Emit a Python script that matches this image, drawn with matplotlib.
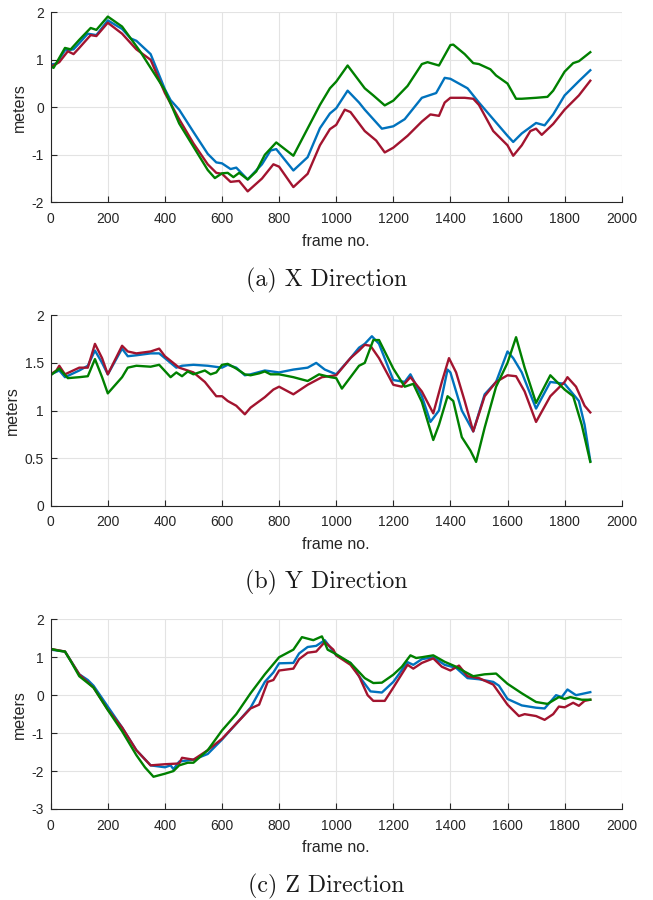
import matplotlib
matplotlib.use("Agg")
import matplotlib.pyplot as plt

plt.rcParams['font.family'] = ['Liberation Sans', 'DejaVu Sans']
plt.rcParams['axes.unicode_minus'] = False

# ---------------- X direction ----------------
x_blue_f = [0, 20, 50, 80, 100, 130, 160, 200, 250, 280, 300, 350, 400, 420, 450, 500, 550, 580, 600, 630, 650, 690, 740, 770, 790, 850, 900, 943, 978, 1000, 1040, 1080, 1100, 1160, 1200, 1240, 1280, 1300, 1350, 1380, 1400, 1460, 1500, 1550, 1600, 1620, 1650, 1700, 1730, 1760, 1800, 1850, 1890]
x_blue_v = [0.9, 0.92, 1.2, 1.22, 1.35, 1.55, 1.52, 1.83, 1.65, 1.45, 1.4, 1.12, 0.38, 0.15, -0.05, -0.52, -0.98, -1.16, -1.18, -1.3, -1.27, -1.52, -1.2, -0.91, -0.88, -1.33, -1.05, -0.44, -0.13, -0.02, 0.35, 0.1, -0.05, -0.45, -0.4, -0.25, 0.05, 0.2, 0.3, 0.62, 0.6, 0.4, 0.1, -0.25, -0.6, -0.73, -0.55, -0.33, -0.38, -0.15, 0.25, 0.55, 0.78]

x_red_f = [0, 30, 60, 80, 100, 140, 160, 200, 250, 300, 350, 400, 450, 500, 550, 580, 600, 630, 660, 690, 740, 780, 800, 850, 900, 943, 978, 1000, 1030, 1050, 1100, 1140, 1170, 1200, 1250, 1300, 1330, 1360, 1380, 1400, 1450, 1480, 1500, 1550, 1600, 1620, 1650, 1680, 1700, 1720, 1760, 1800, 1850, 1890]
x_red_v = [0.85, 0.95, 1.18, 1.12, 1.25, 1.52, 1.5, 1.78, 1.55, 1.22, 1.0, 0.3, -0.25, -0.76, -1.2, -1.38, -1.4, -1.57, -1.55, -1.77, -1.5, -1.2, -1.25, -1.68, -1.4, -0.8, -0.46, -0.37, -0.05, -0.1, -0.5, -0.7, -0.95, -0.85, -0.6, -0.3, -0.15, -0.18, 0.1, 0.2, 0.2, 0.18, 0.05, -0.5, -0.8, -1.02, -0.8, -0.5, -0.45, -0.58, -0.35, -0.05, 0.25, 0.56]

x_green_f = [0, 10, 50, 70, 100, 140, 160, 200, 250, 314, 400, 450, 500, 550, 575, 600, 620, 640, 660, 690, 720, 750, 790, 850, 943, 978, 1000, 1040, 1100, 1130, 1170, 1200, 1250, 1300, 1320, 1360, 1400, 1410, 1450, 1480, 1500, 1540, 1560, 1600, 1630, 1650, 1700, 1740, 1760, 1800, 1830, 1850, 1890]
x_green_v = [0.86, 0.83, 1.25, 1.22, 1.42, 1.67, 1.63, 1.91, 1.7, 1.17, 0.36, -0.34, -0.83, -1.32, -1.49, -1.39, -1.38, -1.47, -1.38, -1.52, -1.35, -1.0, -0.74, -1.02, 0.05, 0.4, 0.54, 0.88, 0.4, 0.25, 0.04, 0.14, 0.45, 0.91, 0.95, 0.88, 1.31, 1.32, 1.12, 0.93, 0.91, 0.8, 0.67, 0.5, 0.18, 0.18, 0.2, 0.22, 0.35, 0.75, 0.93, 0.97, 1.16]

# ---------------- Y direction ----------------
y_blue_f = [0, 30, 50, 100, 130, 155, 180, 200, 250, 270, 300, 350, 380, 400, 440, 460, 500, 550, 600, 620, 650, 680, 700, 750, 800, 850, 900, 930, 960, 1000, 1050, 1080, 1100, 1125, 1150, 1200, 1240, 1260, 1300, 1330, 1360, 1390, 1400, 1440, 1480, 1520, 1560, 1600, 1620, 1650, 1700, 1750, 1800, 1850, 1870, 1890]
y_blue_v = [1.38, 1.42, 1.35, 1.42, 1.47, 1.63, 1.5, 1.38, 1.65, 1.57, 1.58, 1.6, 1.6, 1.55, 1.45, 1.47, 1.48, 1.47, 1.45, 1.48, 1.45, 1.37, 1.38, 1.42, 1.4, 1.43, 1.45, 1.5, 1.43, 1.38, 1.55, 1.66, 1.7, 1.78, 1.7, 1.32, 1.3, 1.38, 1.15, 0.88, 1.0, 1.43, 1.4, 1.0, 0.78, 1.17, 1.3, 1.62, 1.55, 1.4, 1.02, 1.3, 1.28, 1.1, 0.85, 0.47]

y_red_f = [0, 20, 30, 50, 100, 130, 155, 180, 200, 250, 270, 300, 350, 380, 400, 450, 500, 540, 580, 600, 620, 650, 680, 700, 750, 780, 800, 850, 900, 950, 1000, 1050, 1080, 1100, 1120, 1150, 1200, 1230, 1260, 1300, 1340, 1370, 1395, 1420, 1450, 1480, 1520, 1560, 1600, 1630, 1660, 1700, 1750, 1800, 1810, 1840, 1870, 1890]
y_red_v = [1.38, 1.42, 1.47, 1.38, 1.45, 1.45, 1.7, 1.55, 1.38, 1.68, 1.62, 1.6, 1.62, 1.65, 1.57, 1.45, 1.4, 1.3, 1.15, 1.15, 1.1, 1.05, 0.96, 1.03, 1.14, 1.22, 1.25, 1.17, 1.27, 1.35, 1.37, 1.55, 1.63, 1.69, 1.68, 1.55, 1.27, 1.25, 1.35, 1.2, 0.97, 1.3, 1.55, 1.4, 1.1, 0.78, 1.15, 1.3, 1.37, 1.36, 1.2, 0.88, 1.15, 1.3, 1.35, 1.25, 1.05, 0.98]

y_green_f = [0, 30, 60, 100, 130, 155, 180, 200, 250, 270, 300, 350, 380, 420, 440, 460, 480, 500, 540, 560, 580, 600, 620, 650, 680, 700, 730, 750, 770, 800, 850, 900, 940, 980, 1000, 1020, 1050, 1080, 1100, 1130, 1150, 1200, 1240, 1270, 1300, 1340, 1360, 1390, 1410, 1440, 1470, 1490, 1520, 1560, 1600, 1630, 1660, 1700, 1750, 1800, 1830, 1860, 1890]
y_green_v = [1.37, 1.44, 1.34, 1.35, 1.36, 1.54, 1.35, 1.18, 1.35, 1.45, 1.47, 1.46, 1.48, 1.35, 1.4, 1.36, 1.41, 1.38, 1.42, 1.38, 1.4, 1.48, 1.49, 1.44, 1.38, 1.37, 1.39, 1.41, 1.38, 1.38, 1.35, 1.31, 1.38, 1.35, 1.34, 1.23, 1.35, 1.47, 1.5, 1.74, 1.74, 1.44, 1.25, 1.28, 1.09, 0.69, 0.85, 1.15, 1.1, 0.72, 0.58, 0.46, 0.82, 1.25, 1.5, 1.77, 1.45, 1.08, 1.37, 1.22, 1.15, 0.85, 0.46]

# ---------------- Z direction ----------------
z_blue_f = [0, 50, 100, 130, 150, 200, 250, 300, 350, 400, 420, 430, 450, 500, 550, 600, 650, 700, 750, 780, 800, 850, 870, 900, 930, 960, 980, 1000, 1050, 1080, 1120, 1160, 1200, 1250, 1270, 1300, 1340, 1380, 1420, 1460, 1500, 1550, 1570, 1600, 1650, 1700, 1730, 1770, 1790, 1810, 1840, 1890]
z_blue_v = [1.2, 1.15, 0.55, 0.4, 0.25, -0.3, -0.85, -1.45, -1.85, -1.9, -1.85, -1.95, -1.75, -1.7, -1.55, -1.17, -0.75, -0.33, 0.35, 0.6, 0.84, 0.85, 1.1, 1.27, 1.3, 1.45, 1.25, 1.05, 0.85, 0.5, 0.1, 0.07, 0.35, 0.87, 0.8, 0.95, 1.0, 0.8, 0.72, 0.45, 0.42, 0.35, 0.25, -0.1, -0.27, -0.33, -0.35, 0.0, -0.05, 0.15, 0.0, 0.08]

z_red_f = [0, 50, 100, 150, 200, 250, 300, 350, 400, 450, 460, 500, 550, 600, 650, 700, 730, 760, 780, 800, 850, 870, 900, 930, 960, 990, 1000, 1050, 1080, 1110, 1130, 1170, 1200, 1250, 1270, 1300, 1340, 1370, 1400, 1430, 1460, 1500, 1550, 1600, 1640, 1660, 1700, 1730, 1760, 1780, 1800, 1830, 1850, 1870, 1890]
z_red_v = [1.22, 1.15, 0.55, 0.2, -0.38, -0.85, -1.45, -1.85, -1.82, -1.8, -1.65, -1.7, -1.45, -1.15, -0.75, -0.35, -0.25, 0.35, 0.4, 0.65, 0.7, 0.95, 1.12, 1.15, 1.4, 1.2, 1.05, 0.8, 0.5, 0.0, -0.15, -0.15, 0.2, 0.8, 0.7, 0.85, 0.97, 0.75, 0.65, 0.78, 0.5, 0.45, 0.28, -0.25, -0.55, -0.5, -0.55, -0.65, -0.5, -0.3, -0.32, -0.2, -0.28, -0.15, -0.12]

z_green_f = [0, 30, 50, 70, 100, 150, 200, 250, 300, 330, 360, 400, 430, 450, 480, 500, 550, 600, 650, 700, 750, 800, 850, 880, 920, 950, 970, 1000, 1050, 1100, 1130, 1160, 1200, 1230, 1260, 1280, 1300, 1340, 1380, 1420, 1450, 1480, 1520, 1560, 1600, 1650, 1700, 1740, 1780, 1800, 1820, 1860, 1890]
z_green_v = [1.22, 1.17, 1.15, 0.9, 0.5, 0.2, -0.39, -0.95, -1.58, -1.9, -2.15, -2.07, -2.0, -1.85, -1.78, -1.78, -1.45, -0.93, -0.5, 0.05, 0.55, 1.0, 1.2, 1.53, 1.45, 1.55, 1.2, 1.08, 0.85, 0.45, 0.32, 0.33, 0.54, 0.75, 1.05, 0.98, 1.0, 1.05, 0.88, 0.75, 0.62, 0.5, 0.55, 0.57, 0.3, 0.05, -0.18, -0.23, -0.05, -0.1, -0.05, -0.12, -0.12]

x_ticks = [0, 200, 400, 600, 800, 1000, 1200, 1400, 1600, 1800, 2000]
panels = [
    dict(series=[(x_blue_f, x_blue_v), (x_red_f, x_red_v), (x_green_f, x_green_v)],
         ylim=(-2, 2), yticks=[-2, -1, 0, 1, 2], caption="(a) X Direction"),
    dict(series=[(y_blue_f, y_blue_v), (y_red_f, y_red_v), (y_green_f, y_green_v)],
         ylim=(0, 2), yticks=[0, 0.5, 1, 1.5, 2], caption="(b) Y Direction"),
    dict(series=[(z_blue_f, z_blue_v), (z_red_f, z_red_v), (z_green_f, z_green_v)],
         ylim=(-3, 2), yticks=[-3, -2, -1, 0, 1, 2], caption="(c) Z Direction"),
]
colors = ['#0072BD', '#A2142F', '#008000']

W, H = 653, 900
fig = plt.figure(figsize=(W / 100, H / 100), dpi=100)

# axes pixel boxes (left, top, right, bottom)
boxes = [(50.7, 12.3, 621.7, 202.3), (50.7, 315.3, 621.7, 505.7), (50.7, 619.3, 621.7, 809.0)]
caption_y = [280, 582, 886]

dark = '#262626'
for p, (l, t, r, b), cy in zip(panels, boxes, caption_y):
    ax = fig.add_axes([l / W, 1 - b / H, (r - l) / W, (b - t) / H])
    for (f, v), c in zip(p['series'], colors):
        ax.plot(f, v, color=c, lw=1.7)
    ax.set_xlim(0, 2000)
    ax.set_ylim(*p['ylim'])
    ax.set_xticks(x_ticks)
    ax.set_yticks(p['yticks'])
    ax.set_yticklabels([('%g' % t) for t in p['yticks']])
    ax.grid(True, color='#e3e3e3', lw=0.8)
    ax.set_axisbelow(True)
    for s in ['top', 'right']:
        ax.spines[s].set_visible(False)
    for s in ['left', 'bottom']:
        ax.spines[s].set_color(dark)
        ax.spines[s].set_linewidth(0.8)
    ax.tick_params(direction='in', length=4, width=0.8, colors=dark, labelsize=10)
    ax.tick_params(axis='x', pad=7)
    ax.tick_params(axis='y', pad=5)
    ax.set_xlabel('frame no.', fontsize=11.5, color=dark, labelpad=5.5)
    ax.set_ylabel('meters', fontsize=11.5, color=dark, labelpad=3)
    fig.text(326.5 / W, 1 - cy / H, p['caption'], ha='center', va='center',
             fontsize=17.2, family='cmr10', color='#1a1a1a')

fig.savefig('out.png', dpi=100)
